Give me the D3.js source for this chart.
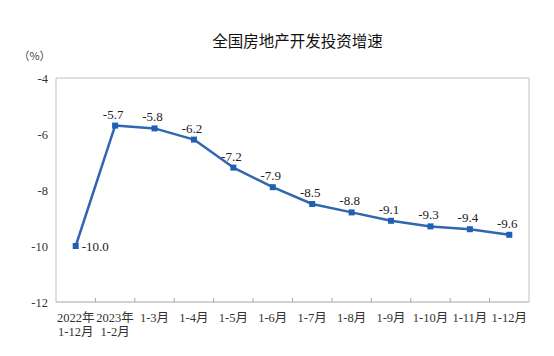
<!DOCTYPE html>
<html>
<head>
<meta charset="utf-8">
<script src="https://cdn.jsdelivr.net/npm/d3@7"></script>
<style>
  html, body { margin: 0; padding: 0; background: #fff; }
  svg { display: block; }
</style>
</head>
<body>
<svg id="chart" width="554" height="356"></svg>
<script>
const title = "全国房地产开发投资增速";
const unitLabel = "（%）";
const categoriesLine1 = ["2022年", "2023年", "1-3月", "1-4月", "1-5月", "1-6月", "1-7月", "1-8月", "1-9月", "1-10月", "1-11月", "1-12月"];
const categoriesLine2 = ["1-12月", "1-2月", "", "", "", "", "", "", "", "", "", ""];
const values = [-10.0, -5.7, -5.8, -6.2, -7.2, -7.9, -8.5, -8.8, -9.1, -9.3, -9.4, -9.6];
const yTicks = [-4, -6, -8, -10, -12];

const svg = d3.select("#chart");
const serif = "'Liberation Serif', 'Times New Roman', 'Noto Sans CJK SC', serif";
const plotLeft = 56, plotRight = 529, plotTop = 78, plotBottom = 302;
const locale = d3.formatLocale({ decimal: ".", thousands: ",", grouping: [3], currency: ["", ""], minus: "-" });

const x = d3.scaleBand().domain(d3.range(values.length)).range([plotLeft, plotRight]);
const y = d3.scaleLinear().domain([-12, -4]).range([plotBottom, plotTop]);

// Title
svg.append("text")
  .attr("x", 297.5).attr("y", 46.5)
  .attr("text-anchor", "middle")
  .attr("font-family", "'Noto Sans CJK SC', sans-serif")
  .attr("font-size", 15.5)
  .attr("fill", "#111")
  .text(title);

// Unit
svg.append("text")
  .attr("x", 34.5).attr("y", 60)
  .attr("text-anchor", "middle")
  .attr("font-family", "'Noto Sans CJK SC', sans-serif")
  .attr("font-size", 11)
  .attr("fill", "#444")
  .text(unitLabel);

// Plot frame (left, top, right)
svg.append("path")
  .attr("d", `M${plotLeft},${plotBottom}V${plotTop}H${plotRight}V${plotBottom}`)
  .attr("fill", "none")
  .attr("stroke", "#bfbfbf")
  .attr("stroke-width", 1);

// Y axis labels
const yAxis = d3.axisLeft(y).tickValues(yTicks).tickSize(0).tickPadding(8).tickFormat(locale.format("d"));
const gy = svg.append("g").attr("transform", `translate(${plotLeft},0)`).call(yAxis);
gy.select(".domain").remove();
gy.selectAll("text")
  .attr("font-family", serif)
  .attr("font-size", 12.5)
  .attr("fill", "#333");

// X axis with inward ticks at band boundaries
const gx = svg.append("g").attr("transform", `translate(0,${plotBottom})`);
gx.append("line")
  .attr("x1", plotLeft).attr("x2", plotRight)
  .attr("stroke", "#a6a6a6").attr("stroke-width", 1);
gx.selectAll("line.tick")
  .data(d3.range(1, values.length))
  .join("line")
  .attr("class", "tick")
  .attr("x1", d => x(d)).attr("x2", d => x(d))
  .attr("y1", 0).attr("y2", -4)
  .attr("stroke", "#a6a6a6").attr("stroke-width", 1);

const labels = svg.append("g")
  .attr("font-family", serif)
  .attr("font-size", 12.5)
  .attr("fill", "#333")
  .attr("text-anchor", "middle");
labels.selectAll("text.l1")
  .data(categoriesLine1)
  .join("text")
  .attr("class", "l1")
  .attr("x", (d, i) => x(i) + x.bandwidth() / 2)
  .attr("y", 321.5)
  .text(d => d);
labels.selectAll("text.l2")
  .data(categoriesLine2)
  .join("text")
  .attr("class", "l2")
  .attr("x", (d, i) => x(i) + x.bandwidth() / 2)
  .attr("y", 336)
  .text(d => d);

// Line
const cx = i => x(i) + x.bandwidth() / 2;
const line = d3.line().x((d, i) => cx(i)).y(d => y(d));
svg.append("path")
  .datum(values)
  .attr("d", line)
  .attr("fill", "none")
  .attr("stroke", "#2f67b1")
  .attr("stroke-width", 2.5)
  .attr("stroke-linejoin", "round");

// Markers
svg.selectAll("rect.marker")
  .data(values)
  .join("rect")
  .attr("class", "marker")
  .attr("x", (d, i) => cx(i) - 3)
  .attr("y", d => y(d) - 3)
  .attr("width", 6).attr("height", 6)
  .attr("fill", "#1f5fb5");

// Data labels
const fmt = locale.format(".1f");
svg.selectAll("text.value")
  .data(values)
  .join("text")
  .attr("class", "value")
  .attr("font-family", serif)
  .attr("font-size", 13)
  .attr("fill", "#222")
  .attr("text-anchor", (d, i) => i === 0 ? "start" : "middle")
  .attr("x", (d, i) => i === 0 ? cx(i) + 6 : cx(i) - 2)
  .attr("y", (d, i) => i === 0 ? y(d) + 5 : y(d) - 7)
  .text(d => fmt(d));
</script>
</body>
</html>
